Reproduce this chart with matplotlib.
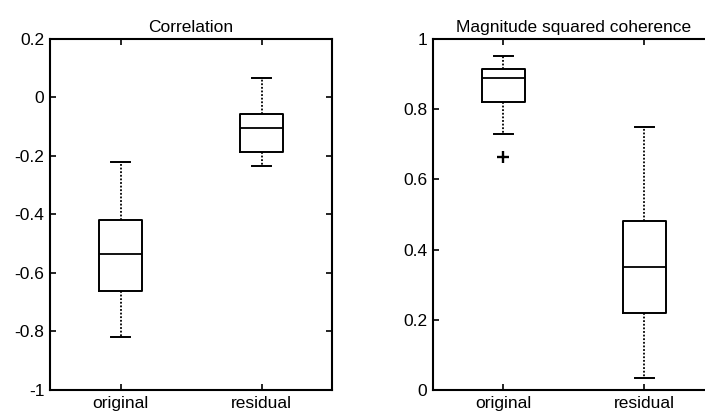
import matplotlib.pyplot as plt

plt.rcParams['font.family'] = ['Liberation Sans', 'DejaVu Sans']

labels = ['original', 'residual']

# correlation: (whislo, q1, med, q3, whishi)
corr_original = [-0.82, -0.66, -0.535, -0.42, -0.22]
corr_residual = [-0.235, -0.185, -0.105, -0.055, 0.065]

# magnitude squared coherence
msc_original = [0.73, 0.82, 0.89, 0.915, 0.95]
msc_original_fliers = [0.665]
msc_residual = [0.035, 0.22, 0.35, 0.48, 0.75]
msc_residual_fliers = []


def stats(vals, label, fliers=()):
    lo, q1, med, q3, hi = vals
    return dict(whislo=lo, q1=q1, med=med, q3=q3, whishi=hi,
                fliers=list(fliers), label=label)


fig = plt.figure(figsize=(7.05, 4.16), dpi=100)
ax1 = fig.add_axes([0.071, 0.0625, 0.4, 0.844])
ax2 = fig.add_axes([0.614, 0.0625, 0.4, 0.844])

box_kw = dict(
    widths=0.3, capwidths=0.14,
    boxprops=dict(color='black', linewidth=1.4),
    medianprops=dict(color='black', linewidth=1.3),
    whiskerprops=dict(color='black', linewidth=1.3, linestyle=(0, (1, 1))),
    capprops=dict(color='black', linewidth=1.4),
    flierprops=dict(marker='+', markeredgecolor='black', markersize=8,
                    markeredgewidth=1.7),
)

ax1.bxp([stats(corr_original, labels[0]), stats(corr_residual, labels[1])],
        **box_kw)
ax2.bxp([stats(msc_original, labels[0], msc_original_fliers),
         stats(msc_residual, labels[1], msc_residual_fliers)], **box_kw)

ax1.set_ylim(-1, 0.2)
ax1.set_yticks([-1, -0.8, -0.6, -0.4, -0.2, 0, 0.2])
ax1.set_yticklabels(['-1', '-0.8', '-0.6', '-0.4', '-0.2', '0', '0.2'])
ax1.set_title('Correlation', fontsize=12.5, pad=5)

ax2.set_ylim(0, 1)
ax2.set_yticks([0, 0.2, 0.4, 0.6, 0.8, 1])
ax2.set_yticklabels(['0', '0.2', '0.4', '0.6', '0.8', '1'])
ax2.set_title('Magnitude squared coherence', fontsize=12.5, pad=5)

for ax in (ax1, ax2):
    ax.set_xlim(0.5, 2.5)
    ax.tick_params(direction='in', top=True, right=True, length=4,
                   labelsize=12.5, width=1.2, pad=4)
    for s in ax.spines.values():
        s.set_linewidth(1.5)

fig.savefig('out.png', dpi=100)
